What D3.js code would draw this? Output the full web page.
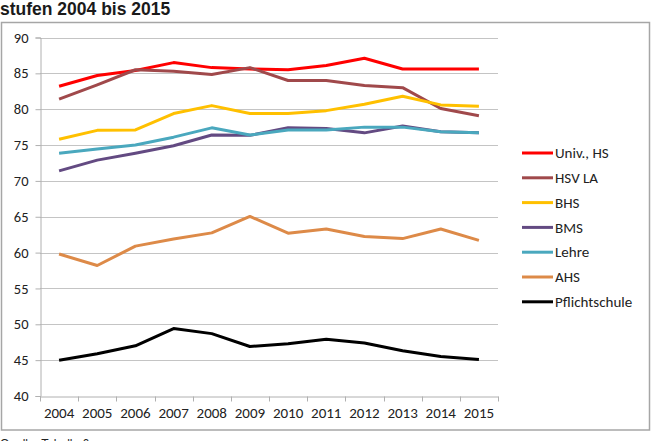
<!DOCTYPE html>
<html>
<head>
<meta charset="utf-8">
<script src="https://cdn.jsdelivr.net/npm/d3@7"></script>
<style>
  body { margin: 0; background: #fff; }
  svg { display: block; }
</style>
</head>
<body>
<div id="chart"></div>
<script>
const years = ['2004', '2005', '2006', '2007', '2008', '2009', '2010', '2011', '2012', '2013', '2014', '2015'];
const yTicks = [40, 45, 50, 55, 60, 65, 70, 75, 80, 85, 90];

const univHs = [83.2, 84.7, 85.4, 86.5, 85.8, 85.6, 85.5, 86.1, 87.1, 85.6, 85.6, 85.6];
const hsvLa = [81.4, 83.4, 85.5, 85.3, 84.85, 85.8, 84.0, 84.0, 83.3, 83.0, 80.1, 79.1];
const bhs = [75.8, 77.05, 77.1, 79.4, 80.5, 79.4, 79.4, 79.8, 80.7, 81.8, 80.6, 80.4];
const bms = [71.4, 72.9, 73.85, 74.9, 76.4, 76.35, 77.4, 77.3, 76.7, 77.65, 76.85, 76.7];
const lehre = [73.85, 74.45, 75.0, 76.1, 77.4, 76.4, 77.1, 77.1, 77.5, 77.5, 76.85, 76.7];
const ahs = [59.8, 58.2, 60.9, 61.9, 62.75, 65.05, 62.7, 63.3, 62.25, 61.95, 63.3, 61.7];
const pflicht = [45.0, 45.9, 47.0, 49.4, 48.7, 46.9, 47.3, 47.9, 47.4, 46.3, 45.5, 45.1];

const seriesNames = ['Univ., HS', 'HSV LA', 'BHS', 'BMS', 'Lehre', 'AHS', 'Pflichtschule'];
const seriesValues = [univHs, hsvLa, bhs, bms, lehre, ahs, pflicht];
const seriesColors = ['#ff0000', '#a0494b', '#ffc000', '#634a82', '#4aa8be', '#dd8a48', '#000000'];

const width = 653;
const height = 441;
const font = 'Carlito, Calibri, "Open Sans", sans-serif';

const svg = d3.select('#chart').append('svg')
  .attr('width', width)
  .attr('height', height);

// title (cut-off heading above the chart)
svg.append('text')
  .attr('x', 0)
  .attr('y', 15)
  .attr('font-family', 'Liberation Sans, Arial, sans-serif')
  .attr('font-weight', 'bold')
  .attr('font-size', 17.5)
  .attr('fill', '#1a1a1a')
  .text('stufen 2004 bis 2015');

// chart frame
svg.append('rect')
  .attr('x', 1.5)
  .attr('y', 22.5)
  .attr('width', 648)
  .attr('height', 407.5)
  .attr('fill', 'none')
  .attr('stroke', '#a6a6a6')
  .attr('stroke-width', 1.5);

// source note, cut at the bottom edge as in the original page
svg.append('text')
  .attr('x', 0)
  .attr('y', 448)
  .attr('font-family', 'Liberation Sans, Arial, sans-serif')
  .attr('font-size', 12)
  .attr('fill', '#222')
  .text('Quelle: Tabelle 6');

const plot = { left: 40, right: 498, top: 37.5, bottom: 396 };

const x = d3.scaleBand().domain(years).range([plot.left, plot.right]);
const y = d3.scaleLinear().domain([40, 90]).range([plot.bottom, plot.top]);

// gridlines
svg.append('g')
  .selectAll('line')
  .data(yTicks.filter(d => d > 40))
  .join('line')
  .attr('x1', plot.left)
  .attr('x2', plot.right)
  .attr('y1', d => Math.round(y(d)) + 0.5)
  .attr('y2', d => Math.round(y(d)) + 0.5)
  .attr('stroke', '#c4c4c4')
  .attr('stroke-width', 1);

// y axis
const yAxis = svg.append('g')
  .attr('transform', `translate(${plot.left + 0.5},0)`)
  .call(d3.axisLeft(y).tickValues(yTicks).tickSize(5).tickPadding(7));
yAxis.select('.domain').attr('stroke', '#b0b0b0');
yAxis.selectAll('.tick line').attr('stroke', '#b0b0b0');
yAxis.selectAll('.tick text')
  .attr('font-family', font)
  .attr('font-size', 14.5)
  .attr('fill', '#222');

// x axis with ticks between categories
const xAxis = svg.append('g')
  .attr('transform', `translate(0,${Math.round(plot.bottom) + 0.5})`)
  .call(d3.axisBottom(x).tickSize(0).tickPadding(11));
xAxis.select('.domain').attr('stroke', '#b0b0b0');
xAxis.selectAll('.tick text')
  .attr('font-family', font)
  .attr('font-size', 15)
  .attr('fill', '#222');
xAxis.selectAll('line.sep')
  .data(d3.range(years.length + 1))
  .join('line')
  .attr('class', 'sep')
  .attr('x1', i => Math.round(plot.left + i * x.step()) + 0.5)
  .attr('x2', i => Math.round(plot.left + i * x.step()) + 0.5)
  .attr('y1', 0)
  .attr('y2', 5)
  .attr('stroke', '#b0b0b0');

// lines
const line = d3.line()
  .x((d, i) => x(years[i]) + x.bandwidth() / 2)
  .y(d => y(d));

seriesValues.forEach((vals, i) => {
  svg.append('path')
    .datum(vals)
    .attr('fill', 'none')
    .attr('stroke', seriesColors[i])
    .attr('stroke-width', 3)
    .attr('stroke-linejoin', 'round')
    .attr('d', line);
});

// legend
const legend = svg.append('g').attr('transform', 'translate(522,153)');
seriesNames.forEach((name, i) => {
  const g = legend.append('g').attr('transform', `translate(0,${i * 24.8})`);
  g.append('line')
    .attr('x1', 0)
    .attr('x2', 31)
    .attr('stroke', seriesColors[i])
    .attr('stroke-width', 3);
  g.append('text')
    .attr('x', 33)
    .attr('y', 0)
    .attr('dy', '0.35em')
    .attr('font-family', font)
    .attr('font-size', 15)
    .attr('fill', '#222')
    .text(name);
});
</script>
</body>
</html>
